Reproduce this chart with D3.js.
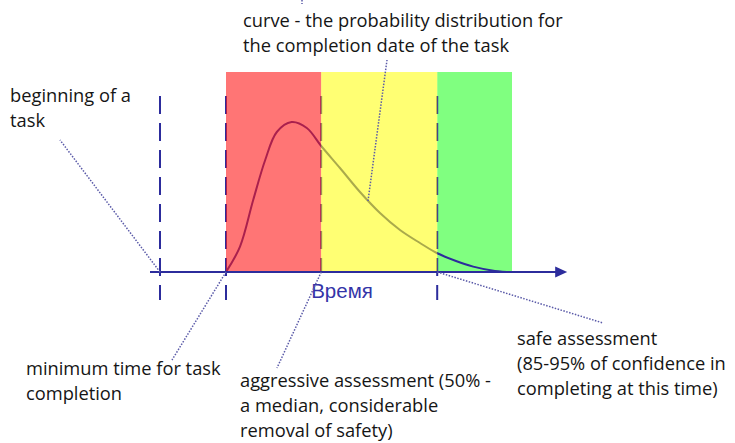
<!DOCTYPE html>
<html>
<head>
<meta charset="utf-8">
<script src="https://cdn.jsdelivr.net/npm/d3@7"></script>
<style>
  body { margin: 0; background: #fff; }
  svg { display: block; }
  .note { font-family: "Open Sans", sans-serif; font-size: 18.3px; fill: #151515; }
</style>
</head>
<body>
<svg id="chart"></svg>
<script>
'use strict';
// time axis (arbitrary units) and probability density
var curveTime = [1.65, 2.0, 2.33, 2.63, 2.92, 3.29, 3.67, 4.03, 4.5, 5.0, 5.5, 6.0, 6.5, 6.92, 7.4, 7.83, 8.3, 8.67];
var curveDensity = [0, 0.127, 0.36, 0.56, 0.70, 0.75, 0.72, 0.63, 0.52, 0.40, 0.295, 0.21, 0.145, 0.095, 0.055, 0.027, 0.008, 0];

// zones: [start, end]
var zoneNames = ["aggressive", "realistic", "safe"];
var zoneStart = [1.65, 4.03, 6.93];
var zoneEnd = [4.03, 6.93, 8.8];

// dashed markers: beginning, minimum, median, safe
var markerTime = [0, 1.65, 4.03, 6.93];
var markerTick = [true, true, false, true];

var axisLabel = "Время";

(function() {
  var width = 735, height = 443;
  var svg = d3.select("#chart").attr("width", width).attr("height", height);

  var x = d3.scaleLinear().domain([0, 10]).range([160, 560]);
  var y = d3.scaleLinear().domain([0, 1]).range([272, 72]);

  var navy = "#2c2c9c";
  var zoneFill = { aggressive: "#ff1919", realistic: "#ffff16", safe: "#80ff80" };
  var zoneOpacity = { aggressive: 0.6, realistic: 0.6, safe: 1 };

  var zones = zoneNames.map(function(d, i) {
    return { name: d, x0: zoneStart[i], x1: zoneEnd[i] };
  });

  // opaque zone first, curve and markers, then the see-through zones on top
  function drawZones(list) {
    svg.append("g").selectAll("rect")
      .data(list)
      .enter().append("rect")
      .attr("x", function(d) { return x(d.x0); })
      .attr("width", function(d) { return x(d.x1) - x(d.x0); })
      .attr("y", y(1))
      .attr("height", y(0) - y(1))
      .attr("fill", function(d) { return zoneFill[d.name]; })
      .attr("fill-opacity", function(d) { return zoneOpacity[d.name]; });
  }
  drawZones(zones.filter(function(d) { return zoneOpacity[d.name] === 1; }));

  // dashed vertical markers
  svg.append("g").selectAll("line")
    .data(markerTime)
    .enter().append("line")
    .attr("x1", function(d) { return x(d); })
    .attr("x2", function(d) { return x(d); })
    .attr("y1", 96)
    .attr("y2", function(d, i) { return markerTick[i] ? 300 : y(0); })
    .attr("stroke", navy)
    .attr("stroke-width", 2)
    .attr("stroke-dasharray", "18,9");

  var line = d3.line()
    .x(function(d) { return x(d[0]); })
    .y(function(d) { return y(d[1]); })
    .curve(d3.curveCatmullRom);

  svg.append("path")
    .datum(d3.zip(curveTime, curveDensity))
    .attr("d", line)
    .attr("fill", "none")
    .attr("stroke", navy)
    .attr("stroke-width", 2);

  drawZones(zones.filter(function(d) { return zoneOpacity[d.name] < 1; }));

  // time axis with arrow
  svg.append("line")
    .attr("x1", x(-0.25)).attr("x2", x(9.9))
    .attr("y1", y(0)).attr("y2", y(0))
    .attr("stroke", navy).attr("stroke-width", 2);
  var tip = x(10.18);
  svg.append("path")
    .attr("d", "M" + (tip - 12) + "," + (y(0) - 5.5) + "L" + tip + "," + y(0) + "L" + (tip - 12) + "," + (y(0) + 5.5) + "Z")
    .attr("fill", navy);

  svg.append("text")
    .attr("x", x(4.55)).attr("y", 298)
    .attr("text-anchor", "middle")
    .style("font-family", "'Liberation Sans', Arial, sans-serif")
    .style("font-size", "20.5px")
    .attr("fill", "#3434a8")
    .text(axisLabel);

  // annotations: text lines, anchor point in data units, leader end in pixels
  var notes = [
    { lines: ["curve - the probability distribution for", "the completion date of the task"], tx: 243, ty: 27,
      at: [5.2, 0.355], from: [387, 60] },
    { lines: ["beginning of a", "task"], tx: 10, ty: 102, at: [0, 0], from: [60, 140] },
    { lines: ["minimum time for task", "completion"], tx: 26, ty: 375, at: [1.65, 0], from: [172, 360] },
    { lines: ["aggressive assessment (50% -", "a median, considerable", "removal of safety)"], tx: 240, ty: 387,
      at: [4.03, 0], from: [277, 368] },
    { lines: ["safe assessment", "(85-95% of confidence in", "completing at this time)"], tx: 517, ty: 345,
      at: [6.93, 0], from: [603, 323] }
  ];

  svg.append("g").selectAll("line")
    .data(notes)
    .enter().append("line")
    .attr("x1", function(d) { return x(d.at[0]); })
    .attr("y1", function(d) { return y(d.at[1]); })
    .attr("x2", function(d) { return d.from[0]; })
    .attr("y2", function(d) { return d.from[1]; })
    .attr("stroke", "#5a5aa8")
    .attr("stroke-width", 1.5)
    .attr("stroke-dasharray", "1.5,1.5");

  // stray leader stub at the very top
  svg.append("line")
    .attr("x1", 302).attr("x2", 302).attr("y1", 0).attr("y2", 4)
    .attr("stroke", "#5a5aa8").attr("stroke-width", 1.5).attr("stroke-dasharray", "1.5,1.5");

  var texts = svg.append("g").selectAll("text")
    .data(notes)
    .enter().append("text")
    .attr("class", "note")
    .attr("x", function(d) { return d.tx; })
    .attr("y", function(d) { return d.ty; });
  texts.selectAll("tspan")
    .data(function(d) { return d.lines.map(function(l, i) { return { t: l, x: d.tx, i: i }; }); })
    .enter().append("tspan")
    .attr("x", function(d) { return d.x; })
    .attr("dy", function(d) { return d.i === 0 ? 0 : 25; })
    .text(function(d) { return d.t; });
})();
</script>
</body>
</html>
